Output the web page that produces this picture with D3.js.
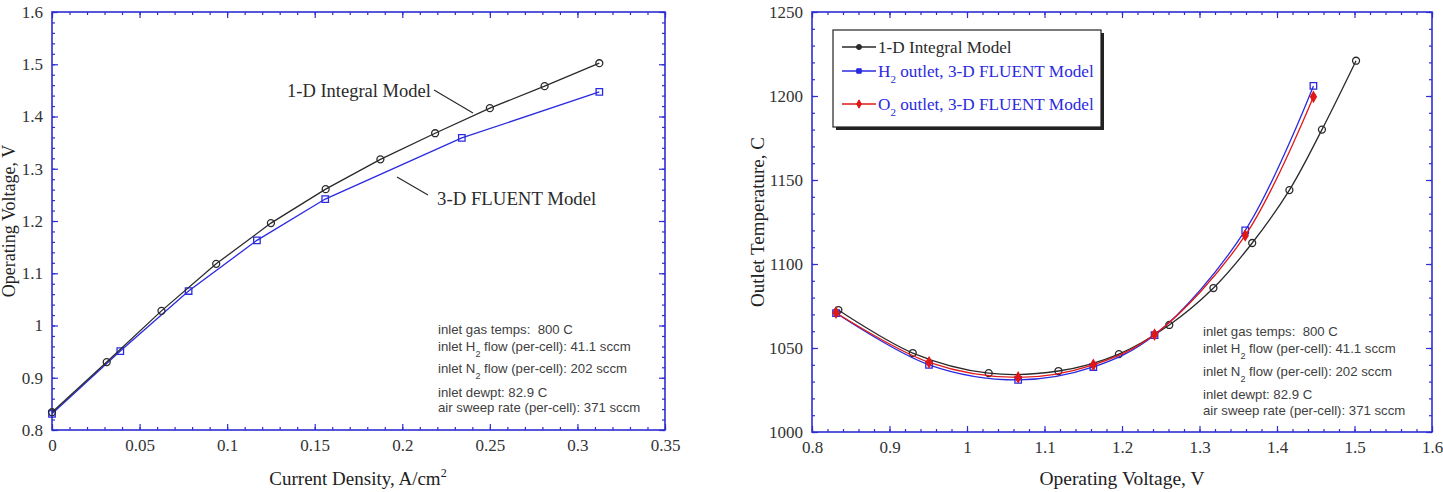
<!DOCTYPE html>
<html>
<head>
<meta charset="utf-8">
<script src="https://cdn.jsdelivr.net/npm/d3@7"></script>
<style>
  body { margin: 0; background: #fff; }
  svg { display: block; }
</style>
</head>
<body>
<svg id="chart" width="1443" height="492"></svg>
<script>
// left panel: operating voltage vs current density
const integralCurrent = [0, 0.03125, 0.0625, 0.09375, 0.125, 0.15625, 0.1875, 0.21875, 0.25, 0.28125, 0.3125];
const integralVoltage = [0.834, 0.930, 1.028, 1.118, 1.196, 1.261, 1.318, 1.368, 1.416, 1.458, 1.502];
const fluentCurrent = [0, 0.039, 0.078, 0.117, 0.156, 0.234, 0.3125];
const fluentVoltage = [0.831, 0.951, 1.066, 1.163, 1.242, 1.359, 1.447];

// right panel: outlet temperature vs operating voltage
const integralTemp = [1072.6, 1047, 1035, 1036.3, 1046.4, 1063.7, 1085.7, 1112.5, 1144, 1180, 1221];
const h2OutletTemp = [1070.8, 1040, 1031, 1038.7, 1057.7, 1120, 1206];
const o2OutletTemp = [1071, 1041.5, 1032.5, 1040, 1058, 1117, 1199.5];

const leftXTicks = [0, 0.05, 0.1, 0.15, 0.2, 0.25, 0.3, 0.35];
const leftYTicks = [0.8, 0.9, 1, 1.1, 1.2, 1.3, 1.4, 1.5, 1.6];
const rightXTicks = [0.8, 0.9, 1, 1.1, 1.2, 1.3, 1.4, 1.5, 1.6];
const rightYTicks = [1000, 1050, 1100, 1150, 1200, 1250];

const legendNames = [["1-D Integral Model"], ["H", "2", " outlet, 3-D FLUENT Model"], ["O", "2", " outlet, 3-D FLUENT Model"]];
const infoLines = [
  ["inlet gas temps:\u00a0 800 C"],
  ["inlet H", "2", " flow (per-cell): 41.1 sccm"],
  ["inlet N", "2", " flow (per-cell): 202 sccm"],
  ["inlet dewpt: 82.9 C"],
  ["air sweep rate (per-cell): 371 sccm"]
];

const FRAME = '#2e2ed2';
const BLACK = '#2a2a2a';
const BLUE = '#2a2ae0';
const RED = '#e01818';
const SERIF = '"Liberation Serif", "Times New Roman", serif';
const SANS = '"Liberation Sans", Arial, sans-serif';

const svg = d3.select('#chart');

function range(a, b, step) {
  const out = [];
  for (let v = a; v <= b + step / 1000; v += step) out.push(+v.toFixed(6));
  return out;
}

function drawFrame(x, y, xTicks, yTicks, xMinor, yMinor, xFmt, yFmt) {
  const [x0, x1] = x.range();
  const [y0, y1] = y.range();
  const g = svg.append('g');

  const styleAxis = (sel) => {
    sel.select('.domain').remove();
    sel.selectAll('line').attr('stroke', FRAME).attr('stroke-width', 1.2);
    sel.selectAll('text').attr('fill', '#333').style('font-family', SERIF).style('font-size', '17px');
  };

  // major ticks with labels
  g.append('g').attr('transform', `translate(0,${y0})`)
    .call(d3.axisBottom(x).tickValues(xTicks).tickSize(-6).tickPadding(9).tickFormat(xFmt))
    .call(styleAxis);
  g.append('g').attr('transform', `translate(${x0},0)`)
    .call(d3.axisLeft(y).tickValues(yTicks).tickSize(-6).tickPadding(9).tickFormat(yFmt))
    .call(styleAxis);
  g.append('g').attr('transform', `translate(0,${y1})`)
    .call(d3.axisTop(x).tickValues(xTicks).tickSize(-6).tickFormat(''))
    .call(styleAxis);
  g.append('g').attr('transform', `translate(${x1},0)`)
    .call(d3.axisRight(y).tickValues(yTicks).tickSize(-6).tickFormat(''))
    .call(styleAxis);

  // minor ticks
  g.append('g').attr('transform', `translate(0,${y0})`)
    .call(d3.axisBottom(x).tickValues(xMinor).tickSize(-3).tickFormat('')).call(styleAxis);
  g.append('g').attr('transform', `translate(0,${y1})`)
    .call(d3.axisTop(x).tickValues(xMinor).tickSize(-3).tickFormat('')).call(styleAxis);
  g.append('g').attr('transform', `translate(${x0},0)`)
    .call(d3.axisLeft(y).tickValues(yMinor).tickSize(-3).tickFormat('')).call(styleAxis);
  g.append('g').attr('transform', `translate(${x1},0)`)
    .call(d3.axisRight(y).tickValues(yMinor).tickSize(-3).tickFormat('')).call(styleAxis);

  g.append('rect')
    .attr('x', x0).attr('y', y1)
    .attr('width', x1 - x0).attr('height', y0 - y1)
    .attr('fill', 'none').attr('stroke', FRAME).attr('stroke-width', 1.6);
}

function drawSeries(g, x, y, xs, ys, color, marker, curve) {
  const pts = xs.map((v, i) => [v, ys[i]]);
  const line = d3.line().x(d => x(d[0])).y(d => y(d[1])).curve(curve);
  g.append('path').datum(pts)
    .attr('d', line).attr('fill', 'none')
    .attr('stroke', color).attr('stroke-width', 1.3);

  const sym = marker === 'circle' ? d3.symbolCircle : marker === 'square' ? d3.symbolSquare : d3.symbolDiamond;
  const size = marker === 'circle' ? 38 : marker === 'square' ? 42 : 30;
  g.selectAll(null).data(pts).enter().append('path')
    .attr('transform', d => `translate(${x(d[0])},${y(d[1])})`)
    .attr('d', d3.symbol().type(sym).size(size))
    .attr('fill', marker === 'diamond' ? color : 'none')
    .attr('stroke', color).attr('stroke-width', 1.3);
}

function drawInfo(xPos, baselines) {
  const t = svg.append('g')
    .style('font-family', SANS).style('font-size', '13.2px')
    .attr('fill', '#404040');
  infoLines.forEach((parts, i) => {
    const txt = t.append('text').attr('x', xPos).attr('y', baselines[i]);
    txt.append('tspan').text(parts[0]);
    if (parts.length > 1) {
      txt.append('tspan').attr('dy', 6).style('font-size', '9px').text(parts[1]);
      txt.append('tspan').attr('dy', -6).text(parts[2]);
    }
  });
}

// ---------- Left panel ----------
const xL = d3.scaleLinear().domain([0, 0.35]).range([52, 665]);
const yL = d3.scaleLinear().domain([0.8, 1.6]).range([430, 12]);

drawFrame(xL, yL, leftXTicks, leftYTicks, range(0, 0.35, 0.01), range(0.8, 1.6, 0.02),
  d => d3.format('~g')(d), d => d3.format('~g')(d));

const gL = svg.append('g');
drawSeries(gL, xL, yL, fluentCurrent, fluentVoltage, BLUE, 'square', d3.curveLinear);
drawSeries(gL, xL, yL, integralCurrent, integralVoltage, BLACK, 'circle', d3.curveLinear);

// callouts
svg.append('text').attr('x', 287).attr('y', 97)
  .style('font-family', SERIF).style('font-size', '18.5px').attr('fill', BLACK)
  .text('1-D Integral Model');
svg.append('line').attr('x1', 434).attr('y1', 90).attr('x2', 473).attr('y2', 113)
  .attr('stroke', BLACK).attr('stroke-width', 1.2);
svg.append('text').attr('x', 437).attr('y', 205)
  .style('font-family', SERIF).style('font-size', '18.8px').attr('fill', BLACK)
  .text('3-D FLUENT Model');
svg.append('line').attr('x1', 397).attr('y1', 177).attr('x2', 428).attr('y2', 195)
  .attr('stroke', BLACK).attr('stroke-width', 1.2);

drawInfo(438, [334, 351, 373, 397, 412]);

// axis titles
const xt = svg.append('text').attr('x', 358).attr('y', 485).attr('text-anchor', 'middle')
  .style('font-family', SERIF).style('font-size', '19px').attr('fill', '#222');
xt.append('tspan').text('Current Density, A/cm');
xt.append('tspan').attr('dy', -8).style('font-size', '12px').text('2');

svg.append('text').attr('transform', 'translate(15,221) rotate(-90)').attr('text-anchor', 'middle')
  .style('font-family', SERIF).style('font-size', '18px').attr('fill', '#222')
  .text('Operating Voltage, V');

// ---------- Right panel ----------
const xR = d3.scaleLinear().domain([0.8, 1.6]).range([812, 1432]);
const yR = d3.scaleLinear().domain([1000, 1250]).range([432, 12]);

drawFrame(xR, yR, rightXTicks, rightYTicks, range(0.8, 1.6, 0.02), range(1000, 1250, 10),
  d => d3.format('~g')(d), d => d3.format('d')(d));

const gR = svg.append('g');
const smooth = d3.curveCatmullRom.alpha(0.5);
drawSeries(gR, xR, yR, integralVoltage, integralTemp, BLACK, 'circle', smooth);
drawSeries(gR, xR, yR, fluentVoltage, h2OutletTemp, BLUE, 'square', smooth);
drawSeries(gR, xR, yR, fluentVoltage, o2OutletTemp, RED, 'diamond', smooth);

// legend
const lg = svg.append('g');
lg.append('rect').attr('x', 836).attr('y', 33).attr('width', 268).attr('height', 97).attr('fill', '#222');
lg.append('rect').attr('x', 833).attr('y', 30).attr('width', 268).attr('height', 97)
  .attr('fill', '#fff').attr('stroke', '#222').attr('stroke-width', 1.2);
const legendColors = [BLACK, BLUE, RED];
const legendMarkers = ['circle', 'square', 'diamond'];
const legendTextColors = [BLACK, BLUE, BLUE];
const legendY = [47, 71, 104];
legendNames.forEach((parts, i) => {
  const cy = legendY[i];
  lg.append('line').attr('x1', 842).attr('x2', 876).attr('y1', cy).attr('y2', cy)
    .attr('stroke', legendColors[i]).attr('stroke-width', 1.4);
  const sym = legendMarkers[i] === 'circle' ? d3.symbolCircle : legendMarkers[i] === 'square' ? d3.symbolSquare : d3.symbolDiamond;
  lg.append('path').attr('transform', `translate(859,${cy})`)
    .attr('d', d3.symbol().type(sym).size(20))
    .attr('fill', legendColors[i]).attr('stroke', legendColors[i]);
  const t = lg.append('text').attr('x', 878).attr('y', cy + 6)
    .style('font-family', SERIF).style('font-size', '17.2px').attr('fill', legendTextColors[i]);
  t.append('tspan').text(parts[0]);
  if (parts.length > 1) {
    t.append('tspan').attr('dy', 6).style('font-size', '11px').text(parts[1]);
    t.append('tspan').attr('dy', -6).text(parts[2]);
  }
});

drawInfo(1203, [336, 353, 376, 399, 415]);

svg.append('text').attr('x', 1122).attr('y', 485).attr('text-anchor', 'middle')
  .style('font-family', SERIF).style('font-size', '19.5px').attr('fill', '#222')
  .text('Operating Voltage, V');
svg.append('text').attr('transform', 'translate(764,222) rotate(-90)').attr('text-anchor', 'middle')
  .style('font-family', SERIF).style('font-size', '19px').attr('fill', '#222')
  .text('Outlet Temperature, C');
</script>
</body>
</html>
